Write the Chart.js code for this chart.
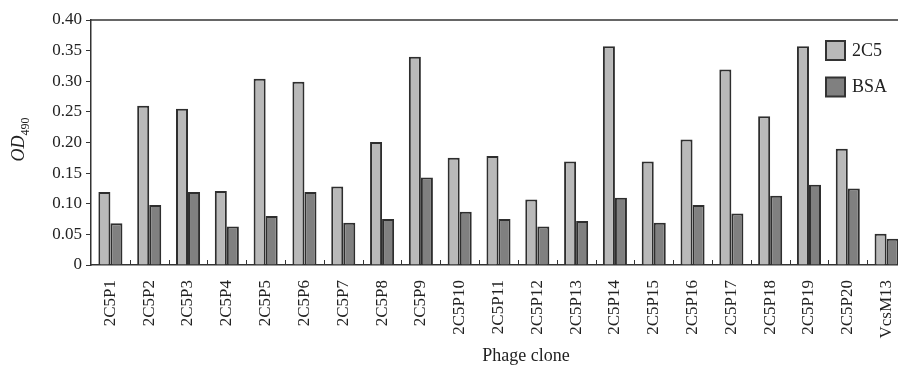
<!DOCTYPE html>
<html>
<head>
<meta charset="utf-8">
<script src="https://cdn.jsdelivr.net/npm/chart.js@4/dist/chart.umd.min.js"></script>
<style>
  html, body { margin: 0; padding: 0; background: #fff; overflow: hidden; }
  #wrap { position: relative; width: 898px; height: 365px; overflow: hidden; }
  #odChart { display: block; }
</style>
</head>
<body>
<div id="wrap"><canvas id="odChart" width="906" height="365"></canvas></div>
<script>
// Phage clones on the x axis
const categories = ["2C5P1", "2C5P2", "2C5P3", "2C5P4", "2C5P5", "2C5P6", "2C5P7", "2C5P8", "2C5P9", "2C5P10",
  "2C5P11", "2C5P12", "2C5P13", "2C5P14", "2C5P15", "2C5P16", "2C5P17", "2C5P18", "2C5P19", "2C5P20", "VcsM13"];

// OD490
const od2C5 = [0.119, 0.260, 0.255, 0.121, 0.304, 0.299, 0.128, 0.201, 0.340, 0.175,
  0.178, 0.107, 0.169, 0.357, 0.169, 0.205, 0.319, 0.243, 0.357, 0.190, 0.051];
const odBSA = [0.068, 0.098, 0.119, 0.063, 0.080, 0.119, 0.069, 0.075, 0.143, 0.087,
  0.075, 0.063, 0.072, 0.110, 0.069, 0.098, 0.084, 0.113, 0.131, 0.125, 0.043];

// y axis ticks
const yMin = 0;
const yMax = 0.40;
const yStep = 0.05;

const serif = '"Liberation Serif", "Times New Roman", serif';
const ink = "#222";

// Draws the frame top, inward category ticks, legend and axis titles
const decorations = {
  id: "decorations",
  afterDraw(chart) {
    const ctx = chart.ctx;
    const area = chart.chartArea;
    const xs = chart.scales.x;
    ctx.save();

    // top frame line
    ctx.strokeStyle = "#333";
    ctx.lineWidth = 1.5;
    ctx.beginPath();
    ctx.moveTo(area.left, area.top);
    ctx.lineTo(area.right, area.top);
    ctx.stroke();

    // small ticks between categories, pointing up into the plot
    ctx.lineWidth = 1;
    for (let i = 1; i < categories.length; i++) {
      const x = Math.round((xs.getPixelForValue(i - 1) + xs.getPixelForValue(i)) / 2) + 0.5;
      ctx.beginPath();
      ctx.moveTo(x, area.bottom);
      ctx.lineTo(x, area.bottom - 5);
      ctx.stroke();
    }

    // legend
    ctx.font = "18px " + serif;
    ctx.textBaseline = "middle";
    ctx.textAlign = "left";
    chart.data.datasets.forEach((ds, i) => {
      const bx = area.right - 80;
      const by = area.top + 21 + i * 36.5;
      ctx.fillStyle = ds.backgroundColor;
      ctx.fillRect(bx, by, 19, 19);
      ctx.strokeStyle = "#333";
      ctx.lineWidth = 2;
      ctx.strokeRect(bx, by, 19, 19);
      ctx.fillStyle = ink;
      ctx.fillText(ds.label, bx + 26, by + 10);
    });

    // y title: OD with subscript 490
    const cy = (area.top + area.bottom) / 2 - 3;
    ctx.translate(24, cy);
    ctx.rotate(-Math.PI / 2);
    ctx.textBaseline = "alphabetic";
    ctx.font = "italic 18px " + serif;
    const w1 = ctx.measureText("OD").width;
    ctx.font = "12px " + serif;
    const w2 = ctx.measureText("490").width;
    const start = -(w1 + w2) / 2;
    ctx.font = "italic 18px " + serif;
    ctx.fillStyle = ink;
    ctx.fillText("OD", start, 0);
    ctx.font = "12px " + serif;
    ctx.fillText("490", start + w1, 5);
    ctx.setTransform(1, 0, 0, 1, 0, 0);

    // x title
    ctx.font = "18px " + serif;
    ctx.textAlign = "center";
    ctx.fillText("Phage clone", 526, 361);

    ctx.restore();
  }
};

new Chart(document.getElementById("odChart"), {
  type: "bar",
  data: {
    labels: categories,
    datasets: [
      {
        label: "2C5",
        data: od2C5,
        backgroundColor: "#b9b9b9",
        borderColor: "#2e2e2e",
        borderWidth: 2,
        borderSkipped: "bottom",
        categoryPercentage: 0.62,
        barPercentage: 1.0
      },
      {
        label: "BSA",
        data: odBSA,
        backgroundColor: "#808080",
        borderColor: "#2e2e2e",
        borderWidth: 2,
        borderSkipped: "bottom",
        categoryPercentage: 0.62,
        barPercentage: 1.0
      }
    ]
  },
  options: {
    animation: false,
    responsive: false,
    // canvas is a bit wider than the page: the original plot runs past the right edge
    layout: { padding: { top: 20, right: 0, left: 0, bottom: 0 } },
    scales: {
      x: {
        afterFit: (scale) => {
          scale.height = 100;
          scale.paddingLeft = 0;
          scale.paddingRight = 0;
        },
        grid: { display: false },
        border: { display: true, color: "#333", width: 1.5 },
        ticks: {
          autoSkip: false,
          minRotation: 90,
          maxRotation: 90,
          padding: 7,
          color: ink,
          font: { family: serif, size: 17 }
        }
      },
      y: {
        min: yMin,
        max: yMax,
        afterFit: (scale) => { scale.width = 91; },
        grid: { drawOnChartArea: false, drawTicks: true, tickLength: 5, color: "#333" },
        border: { display: true, color: "#333", width: 1.5 },
        ticks: {
          stepSize: yStep,
          padding: 4,
          color: ink,
          font: { family: serif, size: 17 },
          callback: (v) => (v === 0 ? "0" : v.toFixed(2))
        }
      }
    },
    plugins: {
      legend: { display: false },
      tooltip: { enabled: false }
    }
  },
  plugins: [decorations]
});
</script>
</body>
</html>
